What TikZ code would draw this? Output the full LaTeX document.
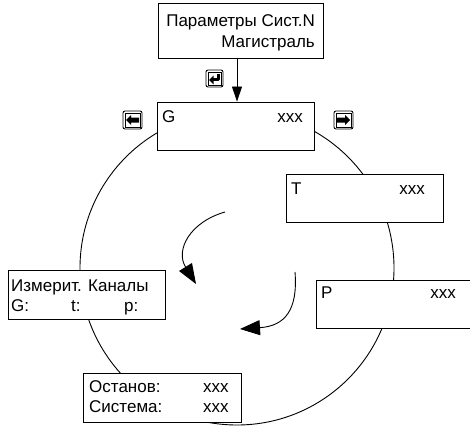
\documentclass[tikz,border=0pt]{standalone}
\usepackage{fontspec}
\setmainfont{Liberation Sans}
\usetikzlibrary{arrows.meta,calc}
\begin{document}
\begin{tikzpicture}[x=1pt,y=-1pt,
  box/.style={draw,line width=0.9pt,fill=white,rectangle,inner sep=0pt,minimum width=157pt,minimum height=48pt},
  txt/.style={inner sep=0pt,font=\fontsize{17}{20}\selectfont},
  ring/.style={line width=0.9pt},
  flow/.style={line width=0.9pt,-{Triangle[length=20pt,width=15pt]}},
  keycap/.style={line width=0.9pt,rounded corners=2pt},
  keyin/.style={line width=0.5pt}]
\useasboundingbox (0,0) rectangle (470,425);
\clip (0,0) rectangle (470,425);
\fill[white] (0,0) rectangle (470,425);

% ring
\draw[ring] (237,268) circle[radius=157];

% boxes
\node[box,minimum width=165pt,minimum height=55pt] (top) at (240.5,30.5) {};
\node[box] (G) at (235.5,126) {};
\node[box] (T) at (364.5,198) {};
\node[box] (P) at (394.5,304) {};
\node[box,minimum height=49pt] (M) at (86.5,294.5) {};
\node[box,minimum width=158pt,minimum height=49pt] (S) at (162,397.5) {};

% texts
\node[txt,anchor=base east] (t1) at (315,27) {Параметры Сист.N};
\node[txt,anchor=base east] (t2) at (315,48) {Магистраль};
\node[txt,anchor=base west] (gl) at (162,122) {G};
\node[txt,anchor=base east] (gx) at (303,122) {xxx};
\node[txt,anchor=base west] (tl) at (291,194) {T};
\node[txt,anchor=base east] (tx) at (425,194) {xxx};
\node[txt,anchor=base west] (pl) at (321,298) {P};
\node[txt,anchor=base east] (px) at (456,298) {xxx};
\node[txt,anchor=base west] (m1) at (11,291) {Измерит. Каналы};
\node[txt,anchor=base west] (m2) at (11,311) {G:};
\node[txt,anchor=base west] (m3) at (71,311) {t:};
\node[txt,anchor=base west] (m4) at (124,311) {p:};
\node[txt,anchor=base west] (s1) at (89,392) {Останов:};
\node[txt,anchor=base west] (s2) at (203,392) {xxx};
\node[txt,anchor=base west] (s3) at (89,412) {Система:};
\node[txt,anchor=base west] (s4) at (203,412) {xxx};

% arrow top -> G
\draw[line width=0.9pt,-{Triangle[length=15pt,width=10pt]}] ($(top.south)+(-3.5,0)$) -- ($(G.north)+(1.5,0)$);

% inner circulating arrows
\coordinate (a1s) at (225,212);
\coordinate (a1e) at (196,284);
\coordinate (a2s) at (295,272);
\coordinate (a2e) at (240,329);
\draw[flow] (a1s) .. controls (190,222) and (175,250) .. (a1e);
\draw[flow] (a2s) .. controls (298,310) and (285,326) .. (a2e);

% key icons
% left
\draw[keycap] (123,111) rectangle (142,129);
\draw[keyin] (125,113) rectangle (140,127);
\fill (126,120) -- (131,115) -- (131,117.5) -- (139,117.5) -- (139,122.5) -- (131,122.5) -- (131,125) -- cycle;
% right
\draw[keycap] (334,111) rectangle (353,129);
\draw[keyin] (336,113) rectangle (351,127);
\fill (350,120) -- (345,115) -- (345,117.5) -- (337,117.5) -- (337,122.5) -- (345,122.5) -- (345,125) -- cycle;
% enter
\draw[keycap] (206,70) rectangle (223,87);
\draw[keyin] (208,72) rectangle (221,85);
\draw[line width=3pt,line join=round] (218,74) -- (218,80) -- (213,80);
\fill (209,80) -- (213.5,75.5) -- (213.5,84.5) -- cycle;
\end{tikzpicture}
\end{document}
